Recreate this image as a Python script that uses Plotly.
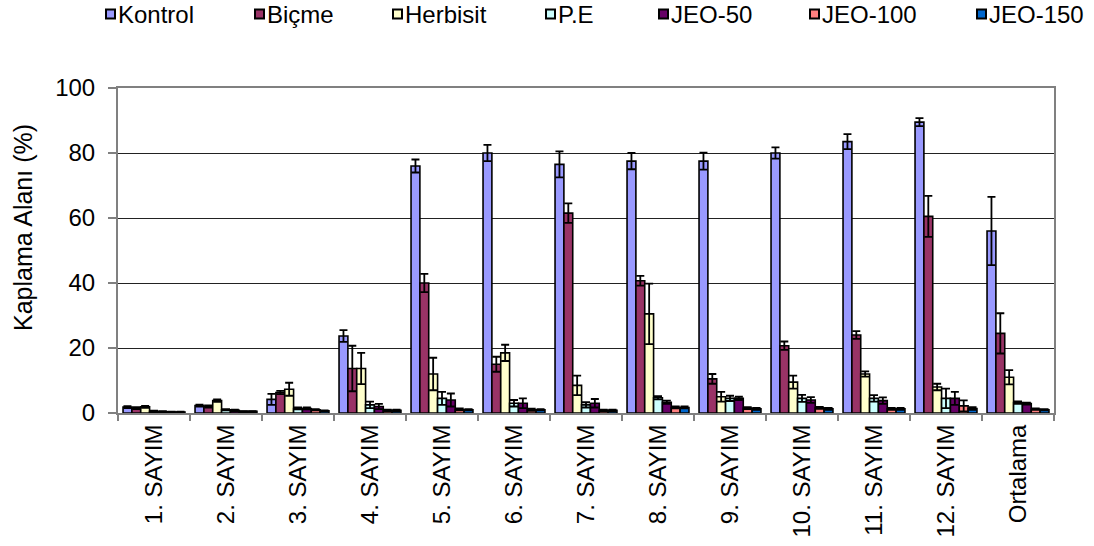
import plotly.graph_objects as go

# Sayım kategorileri
categories = ["1. SAYIM", "2. SAYIM", "3. SAYIM", "4. SAYIM", "5. SAYIM", "6. SAYIM",
              "7. SAYIM", "8. SAYIM", "9. SAYIM", "10. SAYIM", "11. SAYIM", "12. SAYIM",
              "Ortalama"]

# Kaplama alanı (%) ortalamaları ve hata payları
kontrol = [1.8, 2.3, 4.2, 23.7, 76.0, 80.0, 76.5, 77.5, 77.5, 80.0, 83.5, 89.5, 56.0]
kontrol_err = [0.3, 0.3, 1.7, 1.8, 2.0, 2.5, 4.0, 2.5, 2.6, 1.7, 2.3, 1.2, 10.5]

bicme = [1.5, 2.0, 6.3, 13.7, 40.0, 15.0, 61.5, 40.7, 10.5, 20.7, 24.0, 60.5, 24.5]
bicme_err = [0.3, 0.3, 0.5, 7.0, 2.8, 2.3, 3.0, 1.5, 1.5, 1.3, 1.2, 6.3, 6.2]

herbisit = [1.9, 3.8, 7.3, 13.7, 12.0, 18.5, 8.5, 30.5, 5.0, 9.5, 12.0, 8.0, 11.0]
herbisit_err = [0.3, 0.4, 2.0, 4.8, 5.0, 2.5, 3.0, 9.3, 1.5, 2.0, 0.8, 1.0, 2.2]

pe = [0.5, 1.0, 1.4, 2.5, 4.5, 3.0, 2.5, 4.7, 4.5, 4.5, 4.5, 4.5, 3.2]
pe_err = [0.2, 0.2, 0.3, 1.0, 2.0, 1.0, 0.8, 0.5, 0.8, 1.1, 1.0, 3.0, 0.4]

jeo50 = [0.4, 0.8, 1.4, 2.0, 4.0, 3.0, 3.0, 3.3, 4.5, 4.0, 3.8, 4.5, 2.9]
jeo50_err = [0.2, 0.2, 0.3, 0.8, 2.0, 1.5, 1.3, 0.5, 0.5, 0.9, 1.0, 2.0, 0.3]

jeo100 = [0.3, 0.5, 1.0, 0.8, 1.1, 1.0, 0.8, 1.7, 1.5, 1.6, 1.3, 2.2, 1.2]
jeo100_err = [0.1, 0.1, 0.2, 0.2, 0.3, 0.3, 0.2, 0.3, 0.3, 0.3, 0.3, 1.7, 0.2]

jeo150 = [0.3, 0.5, 0.7, 0.8, 1.0, 1.0, 0.8, 1.7, 1.3, 1.3, 1.3, 1.4, 1.0]
jeo150_err = [0.1, 0.1, 0.1, 0.2, 0.2, 0.2, 0.2, 0.3, 0.3, 0.3, 0.3, 0.4, 0.2]

series_names = ["Kontrol", "Biçme", "Herbisit", "P.E", "JEO-50", "JEO-100", "JEO-150"]
series_values = [kontrol, bicme, herbisit, pe, jeo50, jeo100, jeo150]
series_errors = [kontrol_err, bicme_err, herbisit_err, pe_err, jeo50_err, jeo100_err, jeo150_err]
series_colors = ["#9999FF", "#993366", "#FFFFCC", "#CCFFFF", "#660066", "#FF8080", "#0066CC"]

FONT = "Liberation Sans, Arial, sans-serif"

# plot area in pixels
W, H = 1094, 546
PL, PR, PT, PB = 118, 1054, 88, 413


def px_x(px):
    return (px - PL) / (PR - PL)


def px_y(py):
    return (PB - py) / (PB - PT)


fig = go.Figure()
for name, vals, errs, col in zip(series_names, series_values, series_errors, series_colors):
    fig.add_trace(go.Bar(
        x=categories, y=vals, name=name, showlegend=False,
        marker=dict(color=col, line=dict(color="#000000", width=1.6)),
        error_y=dict(type="data", array=errs, visible=True,
                     color="#000000", thickness=1.8, width=4),
    ))

# legend drawn as small boxes with labels across the top
legend_left_px = [106, 255, 393, 546, 659, 810, 977]
legend_cy_px = 14
box = 9
shapes = []
annotations = []
for name, col, lx in zip(series_names, series_colors, legend_left_px):
    shapes.append(dict(type="rect", xref="paper", yref="paper",
                       x0=px_x(lx), x1=px_x(lx + box),
                       y0=px_y(legend_cy_px + box / 2), y1=px_y(legend_cy_px - box / 2),
                       fillcolor=col, line=dict(color="#000000", width=2)))
    annotations.append(dict(xref="paper", yref="paper",
                            x=px_x(lx + box + 1), y=px_y(legend_cy_px),
                            xanchor="left", yanchor="middle", showarrow=False,
                            text=name, font=dict(family=FONT, size=24, color="#000000")))

# y-axis title
annotations.append(dict(xref="paper", yref="paper", x=px_x(23), y=px_y(228),
                        xanchor="center", yanchor="middle", showarrow=False,
                        textangle=-90, text="Kaplama Alanı (%)",
                        font=dict(family=FONT, size=25, color="#000000")))

fig.update_layout(
    width=W, height=H,
    margin=dict(l=PL, r=W - PR, t=PT, b=H - PB, pad=0, autoexpand=False),
    paper_bgcolor="#FFFFFF", plot_bgcolor="#FFFFFF",
    barmode="group", bargap=0.14, bargroupgap=0,
    font=dict(family=FONT, size=22, color="#000000"),
    shapes=shapes, annotations=annotations,
    xaxis=dict(
        type="category", tickangle=-90, tickson="boundaries", automargin=False,
        ticks="outside", ticklen=6, tickcolor="#808080", tickwidth=1.5,
        showline=True, linecolor="#808080", linewidth=2, mirror=True,
        showgrid=False, tickfont=dict(family=FONT, size=24, color="#000000"),
    ),
    yaxis=dict(
        range=[0, 100], dtick=20, tick0=0, automargin=False,
        ticks="outside", ticklen=8, tickcolor="#808080", tickwidth=1.5,
        ticklabelstandoff=8,
        showline=True, linecolor="#808080", linewidth=2, mirror=True,
        showgrid=True, gridcolor="#222222", gridwidth=1, zeroline=False,
        tickfont=dict(family=FONT, size=24, color="#000000"),
    ),
)

fig.write_html("out.html")
